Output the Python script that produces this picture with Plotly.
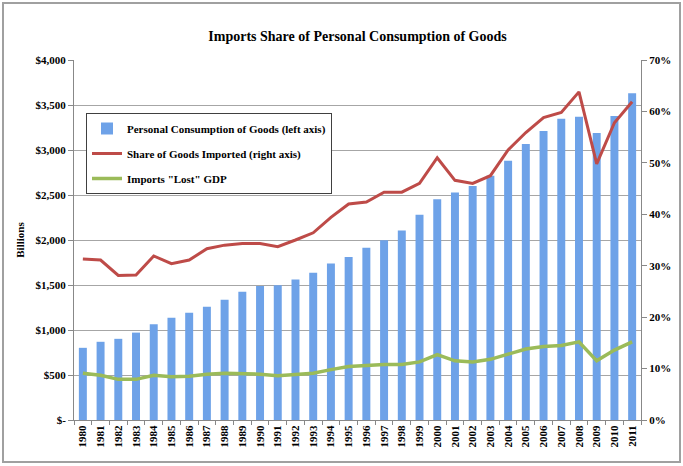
import plotly.graph_objects as go

years = [str(y) for y in range(1980, 2012)]
consumption = [802, 869, 902, 971, 1063, 1137, 1192, 1258, 1336, 1424, 1490, 1498,
               1560, 1637, 1740, 1810, 1913, 1998, 2105, 2281, 2454, 2528, 2601, 2715,
               2881, 3068, 3212, 3348, 3370, 3190, 3377, 3630]
import_share = [31.3, 31.1, 28.1, 28.2, 31.9, 30.4, 31.1, 33.3, 34.0, 34.3, 34.3, 33.7,
                35.0, 36.4, 39.4, 42.0, 42.4, 44.3, 44.3, 46.0, 51.0, 46.6, 46.0, 47.5,
                52.5, 55.9, 58.8, 59.8, 63.8, 49.8, 57.8, 61.9]
lost_gdp = [9.1, 8.7, 7.9, 7.9, 8.7, 8.4, 8.5, 8.9, 9.1, 9.0, 8.9, 8.6,
            8.8, 9.1, 9.8, 10.4, 10.6, 10.8, 10.8, 11.3, 12.7, 11.5, 11.3, 11.8,
            12.8, 13.8, 14.3, 14.5, 15.2, 11.5, 13.6, 15.2]
left_ticks = [0, 500, 1000, 1500, 2000, 2500, 3000, 3500, 4000]
left_labels = ["$-", "$500", "$1,000", "$1,500", "$2,000", "$2,500", "$3,000", "$3,500", "$4,000"]
right_ticks = [0, 10, 20, 30, 40, 50, 60, 70]
right_labels = ["0%", "10%", "20%", "30%", "40%", "50%", "60%", "70%"]

FONT = "Liberation Serif, Times New Roman, serif"
tfont = dict(family=FONT, size=11, color="black", weight="bold")

fig = go.Figure()
fig.add_trace(go.Bar(x=years, y=consumption, name="Personal Consumption of Goods (left axis)",
                     legendgroup="a",
                     marker=dict(color="#6ea2e8", line=dict(width=0)), yaxis="y"))
fig.add_trace(go.Scatter(x=years, y=import_share, name="Share of Goods Imported (right axis)",
                         legendgroup="b",
                         mode="lines", line=dict(color="#be4b48", width=3), yaxis="y2"))
fig.add_trace(go.Scatter(x=years, y=lost_gdp, name='Imports "Lost" GDP',
                         legendgroup="c",
                         mode="lines", line=dict(color="#9bbb59", width=3.5), yaxis="y2"))

fig.update_layout(
    width=683, height=466,
    margin=dict(l=74, r=42, t=60, b=46),
    paper_bgcolor="white", plot_bgcolor="white",
    bargap=0.55,
    title=dict(text="Imports Share of Personal Consumption of Goods", x=0.5, xanchor="center",
               xref="paper", y=1 - 36 / 466, yanchor="middle", yref="container",
               font=dict(family=FONT, size=14, color="black", weight="bold")),
    xaxis=dict(type="category", tickangle=-90, tickfont=tfont, showline=True, linecolor="#888888",
               linewidth=1, ticks="outside", tickson="boundaries", ticklen=4, tickcolor="#888888",
               showgrid=False),
    yaxis=dict(range=[0, 4000], tickvals=left_ticks, ticktext=left_labels, tickfont=tfont,
               showgrid=True, gridcolor="#a6a6a6", gridwidth=1, showline=True, linecolor="#888888",
               ticks="outside", ticklen=5, tickcolor="#888888", zeroline=False,
               title=dict(text="Billions", font=dict(family=FONT, size=11, color="black", weight="bold"),
                          standoff=8)),
    yaxis2=dict(range=[0, 70], overlaying="y", side="right", tickvals=right_ticks, ticktext=right_labels,
                tickfont=tfont, showgrid=False, showline=True, linecolor="#888888", ticks="outside",
                ticklen=5, tickcolor="#888888", zeroline=False),
    legend=dict(x=12 / 567, y=(420 - 113) / 360, xanchor="left", yanchor="top",
                bgcolor="white", bordercolor="#404040", borderwidth=1,
                font=dict(family=FONT, size=11, color="black", weight="bold"),
                traceorder="grouped", tracegroupgap=6, itemwidth=30),
    showlegend=True,
)
fig.add_shape(type="rect", xref="paper", yref="paper",
              x0=(3 - 74) / 567, x1=(680 - 74) / 567, y0=(420 - 462) / 360, y1=(420 - 3) / 360,
              line=dict(color="#a0a0a0", width=2), fillcolor="rgba(0,0,0,0)", layer="below")
fig.write_html("out.html")
